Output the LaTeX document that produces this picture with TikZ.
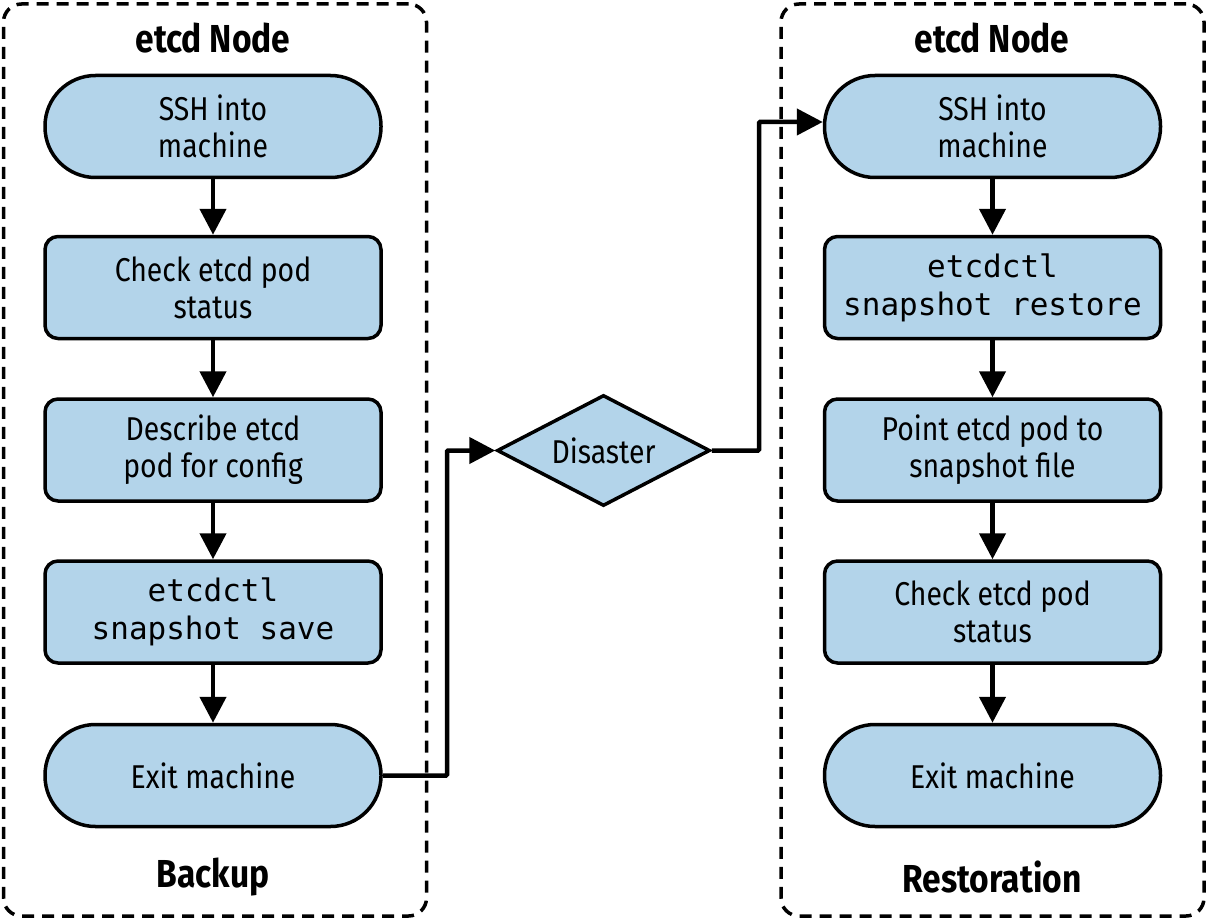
\documentclass[tikz,border=0pt]{standalone}
\usepackage{fontspec}
\setmainfont[FakeStretch=0.86]{Fira Sans}
\setmonofont{DejaVu Sans Mono}
\usetikzlibrary{arrows.meta,shapes.geometric}
\definecolor{boxblue}{RGB}{179,212,234}
\tikzset{
  x=1pt,y=-1pt,
  base/.style={draw=black, line width=3.5pt, fill=boxblue, align=center, minimum width=336pt, minimum height=102pt, inner sep=2pt, font=\fontsize{33}{37}\selectfont},
  procbox/.style={base, rounded corners=13pt},
  termbox/.style={base, rounded corners=50.5pt},
  codetext/.style={font=\fontsize{31}{38}\selectfont\ttfamily},
  group/.style={draw=black, line width=3.5pt, dash pattern=on 12pt off 8pt, rounded corners=18pt, minimum width=423pt, minimum height=912pt, inner sep=0pt},
  title/.style={font=\fontsize{39}{44}\selectfont\bfseries},
  flow/.style={line width=4.5pt, -{Triangle[length=26pt,width=26pt]}},
  decision/.style={diamond, draw=black, line width=3.5pt, fill=boxblue, minimum width=213pt, minimum height=111pt, inner sep=0pt, aspect=1.9, font=\fontsize{33}{37}\selectfont}
}
\begin{document}
\begin{tikzpicture}
\useasboundingbox (0,0) rectangle (1206,920);
% groups
\node[group] (gl) at (215,460) {};
\node[group] (gr) at (992.5,460) {};
\node[title] (tl) at (213,38) {etcd Node};
\node[title] (tr) at (992,38) {etcd Node};
\node[title] (bl) at (213,877) {Backup};
\node[title] (br) at (992,877) {Restoration};
% left column
\node[termbox] (l1) at (213,126.5) {SSH into\\machine};
\node[procbox] (l2) at (213,287.5) {Check etcd pod\\status};
\node[procbox] (l3) at (213,450) {Describe etcd\\pod for config};
\node[procbox, codetext] (l4) at (213,612) {etcdctl\\snapshot save};
\node[termbox] (l5) at (213,775.5) {Exit machine};
% right column
\node[termbox] (r1) at (992.5,126.5) {SSH into\\machine};
\node[procbox, codetext] (r2) at (992.5,287.5) {etcdctl\\snapshot restore};
\node[procbox] (r3) at (992.5,450) {Point etcd pod to\\snapshot file};
\node[procbox] (r4) at (992.5,612) {Check etcd pod\\status};
\node[termbox] (r5) at (992.5,775.5) {Exit machine};
% decision
\node[decision] (d) at (603.5,450.5) {Disaster};
% arrows
\draw[flow] (l1) -- (l2);
\draw[flow] (l2) -- (l3);
\draw[flow] (l3) -- (l4);
\draw[flow] (l4) -- (l5);
\draw[flow] (r1) -- (r2);
\draw[flow] (r2) -- (r3);
\draw[flow] (r3) -- (r4);
\draw[flow] (r4) -- (r5);
\draw[flow, rounded corners=1pt] (l5.east) -- (447,775.5) -- (447,450.5) -- (d.west);
\draw[flow, rounded corners=1pt] (d.east) -- (759,450.5) -- (759,122) -- (r1.west |- 0,122);
\end{tikzpicture}
\end{document}
